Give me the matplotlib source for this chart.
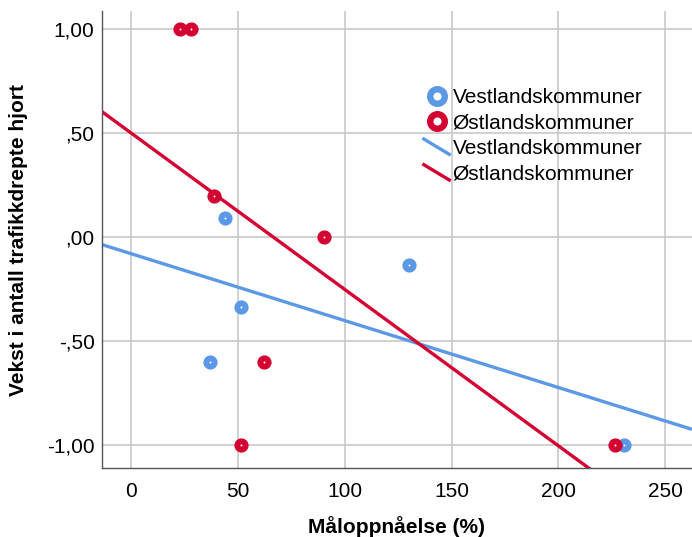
import numpy as np
import matplotlib
matplotlib.use("Agg")
import matplotlib.pyplot as plt
from matplotlib.lines import Line2D
from matplotlib.legend_handler import HandlerBase

plt.rcParams['font.family'] = ['Liberation Sans', 'DejaVu Sans']

# Data
vest_x = [130.3, 51.6, 36.8, 230.8, 44.0]
vest_y = [-0.135, -0.335, -0.60, -1.00, 0.091]
ost_x = [23.1, 28.3, 39.0, 90.1, 62.0, 51.4, 226.5]
ost_y = [1.00, 1.00, 0.20, 0.00, -0.60, -1.00, -1.00]
series_names = ["Vestlandskommuner", "Østlandskommuner"]
x_ticks = [0, 50, 100, 150, 200, 250]
y_ticks = [1.0, 0.5, 0.0, -0.5, -1.0]
y_tick_labels = ["1,00", ",50", ",00", "-,50", "-1,00"]

blue = "#5B98E5"
red = "#D40032"
FS = 15

fig = plt.figure(figsize=(6.92, 5.37), dpi=100)
ax = fig.add_axes([0.1467, 0.1279, 0.8533, 0.8516])
xmin, xmax = -13.8, 262.5
ymin, ymax = -1.11, 1.088
ax.set_xlim(xmin, xmax)
ax.set_ylim(ymin, ymax)

ax.grid(True, color="#c8c8c8", linewidth=1.2, zorder=0)
ax.set_axisbelow(True)

xs = np.array([xmin, xmax])
for xv, yv, c in [(vest_x, vest_y, blue), (ost_x, ost_y, red)]:
    k, m = np.polyfit(xv, yv, 1)
    ax.plot(xs, k * xs + m, color=c, linewidth=2.4, zorder=2, solid_capstyle='butt')

for xv, yv, c in [(vest_x, vest_y, blue), (ost_x, ost_y, red)]:
    ax.plot(xv, yv, linestyle='none', marker='o', markersize=5.9,
            markerfacecolor='white', markeredgecolor=c, markeredgewidth=4.3, zorder=3)

ax.set_xticks(x_ticks)
ax.set_yticks(y_ticks)
ax.set_yticklabels(y_tick_labels)
ax.tick_params(axis='both', length=0, labelsize=FS, colors='#000000')
ax.tick_params(axis='x', pad=10)
ax.tick_params(axis='y', pad=5)

for s in ['top', 'right']:
    ax.spines[s].set_visible(False)
for s in ['left', 'bottom']:
    ax.spines[s].set_color('#555555')
    ax.spines[s].set_linewidth(1.0)

ax.set_xlabel("Måloppnåelse (%)", fontsize=FS, fontweight='bold', labelpad=11)
ax.set_ylabel("Vekst i antall trafikkdrepte hjort", fontsize=FS, fontweight='bold', labelpad=14)


class DiagHandler(HandlerBase):
    def create_artists(self, legend, orig_handle, xdescent, ydescent, width, height, fontsize, trans):
        l = Line2D([-xdescent + width * 0.03, -xdescent + width * 0.97],
                   [-ydescent + height * 1.05, -ydescent + height * 0.0],
                   color=orig_handle.get_color(), linewidth=2.4)
        l.set_transform(trans)
        return [l]


h1 = Line2D([], [], linestyle='none', marker='o', markersize=10.5, markerfacecolor='white',
            markeredgecolor=blue, markeredgewidth=4.6)
h2 = Line2D([], [], linestyle='none', marker='o', markersize=10.5, markerfacecolor='white',
            markeredgecolor=red, markeredgewidth=4.6)
h3 = Line2D([], [], color=blue, linewidth=2.4)
h4 = Line2D([], [], color=red, linewidth=2.4)
leg = fig.legend([h1, h2, h3, h4], series_names + series_names,
                 handler_map={h3: DiagHandler(), h4: DiagHandler()},
                 loc='upper left', bbox_to_anchor=(423 / 692, 1 - 88 / 537), frameon=False,
                 fontsize=FS, handlelength=1.3, handletextpad=0.12, labelspacing=0.32,
                 borderpad=0, borderaxespad=0)

fig.savefig("out.png", dpi=100)
